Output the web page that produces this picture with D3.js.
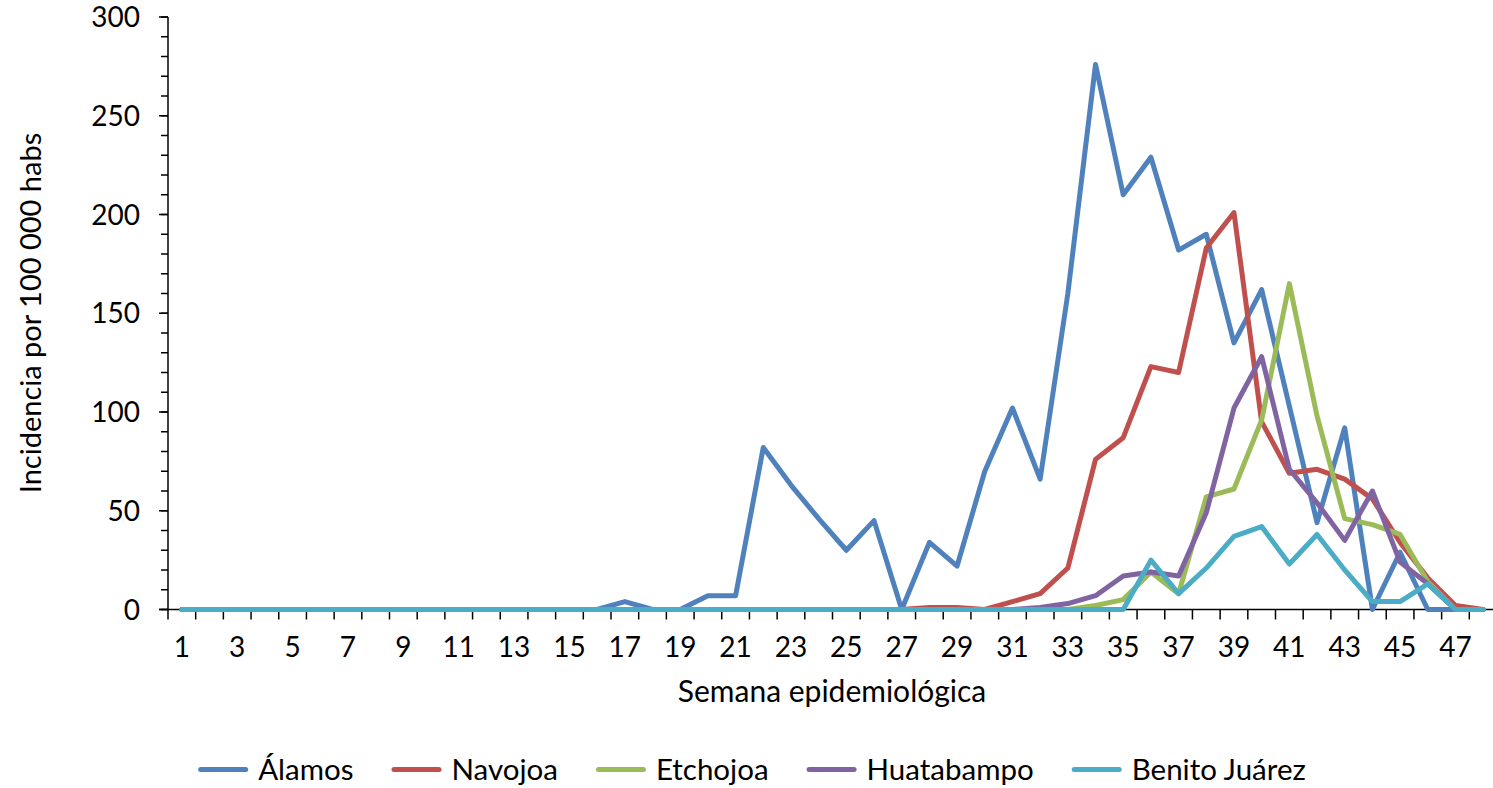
<!DOCTYPE html>
<head>
  <meta charset="utf-8">
  <script src="https://d3js.org/d3.v7.min.js"></script>
  <title>Incidencia por semana epidemiológica</title>
  <style>
    body { margin: 0; background: #fff; }
    text { font-family: Lato, 'Open Sans', sans-serif; fill: #000; }
  </style>
</head>
<body>
<div id="vis"></div>
<script>
// weeks 1..48
const weeks = d3.range(1, 49)
const tickWeeks = weeks.filter(w => w % 2 === 1)
const yTicks = [0, 50, 100, 150, 200, 250, 300]

const municipios = ['Álamos', 'Navojoa', 'Etchojoa', 'Huatabampo', 'Benito Juárez']
const colores = ['#4f81bd', '#c0504d', '#9bbb59', '#8064a2', '#4bacc6']

const alamos = [0, 0, 0, 0, 0, 0, 0, 0, 0, 0, 0, 0, 0, 0, 0, 0,
  4, 0, 0, 7, 7, 82, 63, 46, 30, 45, 0, 34, 22, 70, 102, 66,
  160, 276, 210, 229, 182, 190, 135, 162, 103, 44, 92, 0, 29, 0, 0, 0]
const navojoa = [0, 0, 0, 0, 0, 0, 0, 0, 0, 0, 0, 0, 0, 0, 0, 0,
  0, 0, 0, 0, 0, 0, 0, 0, 0, 0, 0, 1, 1, 0, 4, 8,
  21, 76, 87, 123, 120, 183, 201, 95, 69, 71, 66, 56, 34, 16, 2, 0]
const etchojoa = [0, 0, 0, 0, 0, 0, 0, 0, 0, 0, 0, 0, 0, 0, 0, 0,
  0, 0, 0, 0, 0, 0, 0, 0, 0, 0, 0, 0, 0, 0, 0, 0,
  0, 2, 5, 19, 8, 57, 61, 96, 165, 98, 46, 43, 38, 14, 0, 0]
const huatabampo = [0, 0, 0, 0, 0, 0, 0, 0, 0, 0, 0, 0, 0, 0, 0, 0,
  0, 0, 0, 0, 0, 0, 0, 0, 0, 0, 0, 0, 0, 0, 0, 1,
  3, 7, 17, 19, 17, 49, 102, 128, 71, 54, 35, 60, 24, 13, 0, 0]
const benitoJuarez = [0, 0, 0, 0, 0, 0, 0, 0, 0, 0, 0, 0, 0, 0, 0, 0,
  0, 0, 0, 0, 0, 0, 0, 0, 0, 0, 0, 0, 0, 0, 0, 0,
  0, 0, 0, 25, 8, 21, 37, 42, 23, 38, 20, 4, 4, 13, 0, 0]

const series = [alamos, navojoa, etchojoa, huatabampo, benitoJuarez]

const width = 1493
const height = 788
const margin = { left: 168, right: 1497, top: 17, bottom: 609.5 }

const svg = d3.select('#vis').append('svg')
  .attr('width', width)
  .attr('height', height)

const x = d3.scaleBand().domain(weeks).range([margin.left, margin.right])
const y = d3.scaleLinear().domain([0, 300]).range([margin.bottom, margin.top])

// y axis: minor ticks every 10, major every 50
const yAxis = svg.append('g')
yAxis.selectAll('line.minor')
  .data(d3.range(0, 301, 10))
  .join('line')
  .attr('x1', margin.left - 7).attr('x2', margin.left)
  .attr('y1', d => y(d)).attr('y2', d => y(d))
  .attr('stroke', '#000').attr('stroke-width', 1.5)
yAxis.selectAll('line.major')
  .data(yTicks)
  .join('line')
  .attr('x1', margin.left - 9).attr('x2', margin.left)
  .attr('y1', d => y(d)).attr('y2', d => y(d))
  .attr('stroke', '#000').attr('stroke-width', 1.5)
yAxis.append('line')
  .attr('x1', margin.left).attr('x2', margin.left)
  .attr('y1', y(0)).attr('y2', y(300))
  .attr('stroke', '#000').attr('stroke-width', 1.5)
yAxis.selectAll('text')
  .data(yTicks)
  .join('text')
  .attr('x', 140)
  .attr('y', d => y(d))
  .attr('dy', '0.36em')
  .attr('text-anchor', 'end')
  .style('font-size', '28px')
  .text(d => d)

// x axis: ticks between categories
const xAxis = svg.append('g')
const bounds = weeks.map(w => x(w)).concat([margin.right])
xAxis.selectAll('line.tick')
  .data(bounds)
  .join('line')
  .attr('x1', d => d).attr('x2', d => d)
  .attr('y1', y(0)).attr('y2', y(0) + 10)
  .attr('stroke', '#000').attr('stroke-width', 1.5)
xAxis.append('line')
  .attr('x1', margin.left - 9).attr('x2', margin.right)
  .attr('y1', y(0)).attr('y2', y(0))
  .attr('stroke', '#000').attr('stroke-width', 1.5)
xAxis.selectAll('text')
  .data(tickWeeks)
  .join('text')
  .attr('x', d => x(d) + x.bandwidth() / 2)
  .attr('y', 657)
  .attr('text-anchor', 'middle')
  .style('font-size', '28px')
  .text(d => d)

// axis titles
svg.append('text')
  .attr('x', 832)
  .attr('y', 702)
  .attr('text-anchor', 'middle')
  .style('font-size', '30px')
  .text('Semana epidemiológica')

svg.append('text')
  .attr('transform', 'translate(41,313) rotate(-90)')
  .attr('text-anchor', 'middle')
  .style('font-size', '29px')
  .text('Incidencia por 100 000 habs')

// lines
const line = d3.line()
  .x((d, i) => x(weeks[i]) + x.bandwidth() / 2)
  .y(d => y(d))

svg.append('g')
  .selectAll('path')
  .data(series)
  .join('path')
  .attr('d', line)
  .attr('fill', 'none')
  .attr('stroke', (d, i) => colores[i])
  .attr('stroke-width', 5)
  .attr('stroke-linejoin', 'round')
  .attr('stroke-linecap', 'round')

// legend
const legend = svg.append('g')
const items = legend.selectAll('g')
  .data(municipios)
  .join('g')
items.append('line')
  .attr('x1', 2.5).attr('x2', 47.5)
  .attr('y1', 769.5).attr('y2', 769.5)
  .attr('stroke', (d, i) => colores[i])
  .attr('stroke-width', 5)
  .attr('stroke-linecap', 'round')
items.append('text')
  .attr('x', 60)
  .attr('y', 780)
  .style('font-size', '29.5px')
  .text(d => d)

const gap = 38
let widths = []
items.each(function () {
  widths.push(60 + d3.select(this).select('text').node().getComputedTextLength())
})
const total = d3.sum(widths) + gap * (widths.length - 1)
let pos = 752 - total / 2
items.attr('transform', (d, i) => {
  const t = 'translate(' + pos + ',0)'
  pos += widths[i] + gap
  return t
})
</script>
</body>
